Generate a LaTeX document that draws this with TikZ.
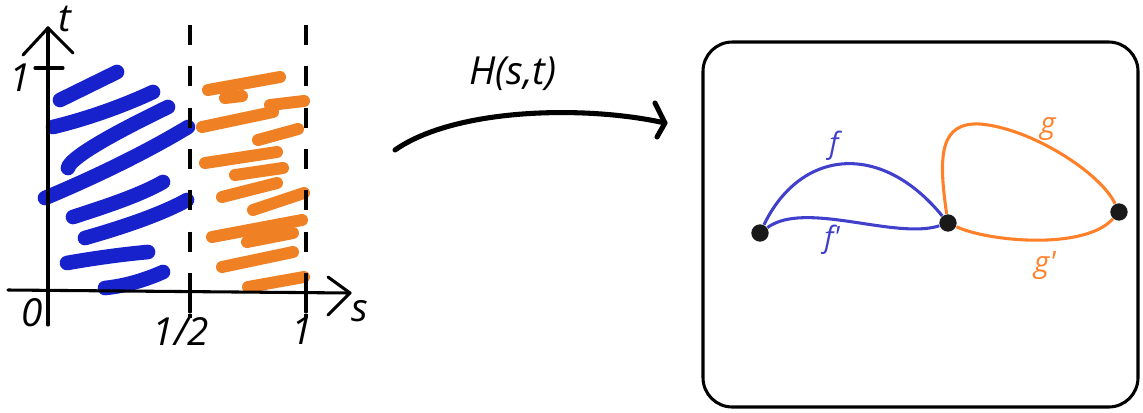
\documentclass[tikz,border=0pt]{standalone}
\usepackage{fontspec}
\setmainfont{Open Sans}[Ligatures=TeXOff]
\definecolor{penblue}{RGB}{24,34,204}
\definecolor{penorange}{RGB}{240,128,36}
\definecolor{pathblue}{RGB}{64,64,204}
\definecolor{pathorange}{RGB}{255,128,40}
\tikzset{every picture/.style={line width=0.75pt}}

\begin{document}
\begin{tikzpicture}[x=0.75pt,y=0.75pt,yscale=-1,xscale=1,
  axisline/.style={line width=2.3pt,line cap=round,line join=round},
  cutline/.style={line width=2.3pt,dash pattern={on 15pt off 16pt}},
  bluestroke/.style={penblue,line width=11pt,line cap=round},
  orangestroke/.style={penorange,line width=9pt,line cap=round},
  dot/.style={circle,fill=black!90,inner sep=0pt,minimum size=13pt},
  axislabel/.style={font=\fontsize{29}{32}\selectfont\itshape,inner sep=0pt},
  pathlabel/.style={font=\fontsize{22}{25}\selectfont\itshape,inner sep=0pt}]
%set diagram left start at 0, and has height of 412
\path (0,0) rectangle (1143,412);

%Shape: blue strokes
\draw [bluestroke] (60,100) -- (117,72) ;
\draw [bluestroke] (53,127) .. controls (90,118) and (125,105) .. (153,92) ;
\draw [bluestroke] (68,168) .. controls (70,158) and (110,135) .. (168,107) ;
\draw [bluestroke] (45,198) .. controls (100,175) and (150,150) .. (188,127) ;
\draw [bluestroke] (73,217) .. controls (110,205) and (140,195) .. (163,182) ;
\draw [bluestroke] (85,238) .. controls (120,228) and (160,215) .. (187,200) ;
\draw [bluestroke] (67,263) .. controls (95,258) and (125,254) .. (148,252) ;
\draw [bluestroke] (105,288) .. controls (125,286) and (145,280) .. (163,272) ;

%Shape: orange strokes
\draw [orangestroke] (208,90) -- (280,77) ;
\draw [orangestroke] (225,98) -- (242,96) ;
\draw [orangestroke] (270,105) -- (304,101) ;
\draw [orangestroke] (202,127) -- (273,112) ;
\draw [orangestroke] (258,140) -- (298,129) ;
\draw [orangestroke] (205,163) -- (277,152) ;
\draw [orangestroke] (235,175) -- (283,168) ;
\draw [orangestroke] (222,197) -- (277,183) ;
\draw [orangestroke] (253,210) -- (304,193) ;
\draw [orangestroke] (212,237) -- (302,220) ;
\draw [orangestroke] (247,242) -- (293,233) ;
\draw [orangestroke] (222,267) -- (293,252) ;
\draw [orangestroke] (248,287) -- (304,277) ;

%Shape: Axis 2D
\draw [axisline] (48,325) -- (48,28) ;
\draw [axisline] (23,55) -- (48,28) -- (73,53) ;
\draw [axisline] (8,290) -- (350,293) ;
\draw [axisline] (328,277) -- (350,293) -- (328,315) ;
\draw [axisline] (35,68) -- (63,68) ;
%Straight Lines: cuts at s=1/2 and s=1
\draw [cutline] (190,25) -- (190,318) ;
\draw [cutline] (306,25) -- (306,318) ;
\draw [axisline] (190,280) -- (190,312) ;
\draw [axisline] (306,280) -- (306,312) ;

\node [axislabel] (tlab) at (65,19) {t};
\node [axislabel] (onelab) at (20,78) {1};
\node [axislabel] (zerolab) at (32,313) {0};
\node [axislabel] (halflab) at (181,331) {1/2};
\node [axislabel] (slab) at (360,311) {s};
\node [axislabel] (sonelab) at (302,331) {1};

%Curve Lines: the map H
\coordinate (hstart) at (395,150) ;
\coordinate (hend) at (665,123) ;
\draw [line width=3.8pt,line cap=round] (hstart) .. controls (455,108) and (585,105) .. (hend) ;
\draw [line width=3.8pt,line cap=round,line join=round] (655,103) -- (hend) -- (657,137) ;
\node [axislabel] (hlab) at (513,74) {H(s,t)};

%Shape: Rectangle
\draw [line width=2.3pt,rounded corners=22pt] (703,42) rectangle (1138,407) ;

\node [dot] (a) at (760,233) {};
\node [dot] (b) at (948,223) {};
\node [dot] (c) at (1119,212) {};

%Curve Lines: f and f'
\draw [pathblue,line width=2.3pt] (a) .. controls (800,150) and (880,140) .. (b) ;
\draw [pathblue,line width=2.3pt] (a) .. controls (805,200) and (895,240) .. (b) ;
%Curve Lines: g and g'
\draw [pathorange,line width=2.3pt] (b) .. controls (938,155) and (940,122) .. (980,124) .. controls (1030,128) and (1100,172) .. (c) ;
\draw [pathorange,line width=2.3pt] (b) .. controls (990,242) and (1085,250) .. (c) ;

\node [pathlabel,pathblue] (flab) at (834,146) {f};
\node [pathlabel,pathblue] (fplab) at (832,240) {f'};
\node [pathlabel,pathorange] (glab) at (1048,129) {g};
\node [pathlabel,pathorange] (gplab) at (1045,266) {g'};

\end{tikzpicture}
\end{document}
